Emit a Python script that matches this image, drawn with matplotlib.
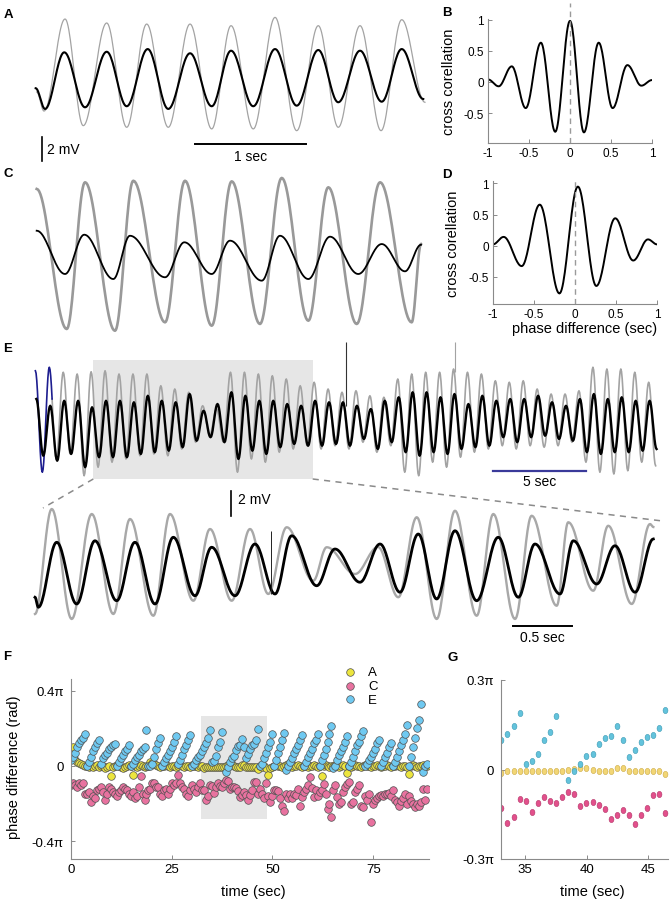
import numpy as np
import matplotlib.pyplot as plt
from matplotlib.lines import Line2D
from matplotlib.patches import Rectangle
from matplotlib.markers import MarkerStyle
from matplotlib.transforms import Affine2D

plt.rcParams['font.family'] = ['Liberation Sans', 'DejaVu Sans']

# ---------------- data ----------------
# A: turning points of the two traces (sec, mV)
A_black_t = [0.006, 0.090, 0.262, 0.448, 0.642, 0.821, 1.009, 1.193, 1.388, 1.582,
             1.755, 1.954, 2.149, 2.343, 2.536, 2.715, 2.910, 3.104, 3.283, 3.476]
A_black_v = [-0.79, -2.56, 2.28, -2.42, 2.33, -2.33, 2.56, -2.56, 2.20, -2.33,
             2.42, -2.33, 2.56, -2.28, 2.48, -1.99, 2.42, -1.94, 2.56, -1.71]
A_grey_t = [0.015, 0.081, 0.269, 0.432, 0.642, 0.821, 1.000, 1.193, 1.388, 1.582,
            1.755, 1.954, 2.149, 2.343, 2.536, 2.715, 2.910, 3.098, 3.283, 3.491]
A_grey_v = [-1.11, -2.74, 5.13, -3.99, 4.79, -4.13, 4.70, -4.13, 4.70, -4.27,
            4.56, -4.27, 5.27, -4.42, 4.56, -4.13, 4.56, -4.42, 5.07, -1.99]

# C: turning points (sec, mV)
C_grey_t = [0.015, 0.284, 0.448, 0.716, 0.880, 1.164, 1.343, 1.582, 1.761, 2.014,
            2.209, 2.447, 2.626, 2.880, 3.089, 3.372, 3.456]
C_grey_v = [5.56, -6.41, 6.13, -6.56, 6.26, -5.84, 6.26, -6.13, 6.21, -5.98,
            6.50, -5.70, 5.70, -5.98, 6.13, -5.84, 0.85]
C_black_t = [0.015, 0.269, 0.441, 0.701, 0.850, 1.164, 1.337, 1.582, 1.746, 2.030,
             2.193, 2.447, 2.641, 2.894, 3.104, 3.312, 3.456]
C_black_v = [1.99, -1.71, 1.65, -2.14, 1.56, -1.99, 1.00, -1.71, 1.14, -2.28,
             1.56, -2.14, 1.48, -1.71, 0.85, -1.48, 0.79]

# B, D: cross correlation turning points (lag sec, r)
B_lag = [-1, -0.87, -0.71, -0.54, -0.355, -0.18, 0, 0.17, 0.35, 0.52, 0.70, 0.87, 1]
B_cc = [0.04, -0.07, 0.25, -0.42, 0.63, -0.80, 0.98, -0.81, 0.63, -0.42, 0.27, -0.06, 0.03]
D_lag = [-1, -0.87, -0.65, -0.43, -0.19, 0.035, 0.26, 0.49, 0.71, 0.89, 1]
D_cc = [0.02, 0.14, -0.33, 0.66, -0.77, 0.95, -0.65, 0.44, -0.24, 0.10, 0.02]

# E (top, long recording): one peak and one trough per cycle (mV)
E_top_t0 = 0.07      # sec, first peak
E_top_half = 0.3747  # sec between a peak and the next trough
E_top_black_pk = [2.24, 1.70, 2.10, 2.10, 1.58, 2.10, 2.10, 1.98, 2.50, 2.10, 1.98, 2.64,
                  1.30, 1.84, 2.78, 2.50, 2.10, 2.10, 1.84, 1.70, 2.10, 1.98, 1.98, 1.70,
                  1.44, 2.10, 2.38, 2.78, 2.78, 2.38, 2.64, 1.84, 2.50, 2.10, 2.24, 2.24,
                  2.50, 1.98, 1.70, 2.24, 2.64, 2.24, 2.38, 2.10, 2.10]
E_top_black_tr = [-2.30, -2.70, -2.16, -3.22, -2.42, -2.42, -2.42, -2.16, -2.02, -1.90, -1.62,
                  -1.10, -0.82, -1.22, -2.56, -1.90, -2.16, -1.62, -1.36, -1.50, -1.50, -1.36,
                  -1.50, -0.96, -1.76, -1.22, -2.02, -2.30, -2.02, -2.16, -1.76, -1.62, -1.50,
                  -0.82, -1.22, -0.82, -0.70, -0.96, -1.10, -2.02, -2.16, -2.02, -2.02, -1.90,
                  -1.76]
E_top_grey_pk = [4.50, 4.78, 4.38, 4.24, 4.42, 4.50, 4.24, 4.24, 4.24, 3.30, 3.04, 2.78,
                 1.70, 1.44, 4.38, 4.38, 4.24, 4.10, 3.84, 3.30, 3.58, 3.04, 2.78, 2.90,
                 2.50, 2.38, 3.84, 4.24, 4.38, 4.38, 4.64, 4.38, 4.24, 3.70, 3.58, 3.70,
                 3.04, 2.64, 2.64, 2.90, 4.78, 4.64, 4.64, 4.38, 3.58]
E_top_grey_tr = [-3.62, -2.56, -2.16, -3.90, -3.22, -2.82, -2.56, -2.30, -2.16, -2.30, -1.76,
                 -1.22, -0.70, -1.22, -3.62, -2.56, -2.82, -2.02, -1.76, -1.50, -1.76, -1.50,
                 -1.76, -1.22, -2.02, -1.50, -3.62, -3.90, -2.82, -3.22, -2.42, -2.02, -1.76,
                 -1.50, -1.76, -1.50, -1.62, -1.50, -1.22, -2.82, -3.62, -3.76, -3.50, -2.82,
                 -3.10]
E_top_spike_t = [16.72, 22.58]
E_top_spike_lo = [1.68, 4.40]
E_top_spike_hi = [6.80, 6.80]

# E (bottom, zoom of shaded part): turning points (sec, mV)
EB_black_t = [0.000, 0.028, 0.184, 0.353, 0.508, 0.692, 0.847, 1.017, 1.172, 1.356, 1.497,
              1.695, 1.864, 2.034, 2.175, 2.387, 2.542, 2.754, 2.924, 3.093, 3.248, 3.404,
              3.559, 3.743, 3.926, 4.096, 4.237, 4.449, 4.562, 4.760, 4.915, 5.085, 5.240]
EB_black_v = [-2.26, -3.06, 2.14, -2.80, 2.26, -2.54, 2.14, -2.80, 2.54, -2.14, 1.74,
              -2.14, 2.00, -2.00, 2.66, -1.34, 1.60, -1.06, 2.00, -1.86, 2.80, -2.40,
              3.06, -2.54, 2.54, -2.26, 2.00, -2.00, 2.26, -1.20, 1.86, -1.86, 2.40]
EB_grey_t = [0.000, 0.142, 0.311, 0.481, 0.664, 0.805, 1.003, 1.144, 1.342, 1.483, 1.667,
             1.822, 1.977, 2.133, 2.358, 2.472, 2.712, 2.907, 3.079, 3.235, 3.404, 3.559,
             3.743, 3.884, 4.068, 4.209, 4.421, 4.519, 4.731, 4.858, 5.057, 5.212, 5.240]
EB_grey_v = [-3.60, 4.80, -4.00, 4.40, -3.60, 4.00, -3.74, 4.40, -2.54, 3.20, -2.54,
             3.20, -2.00, 3.34, -0.94, 1.74, -0.40, 1.76, -2.26, 4.14, -4.00, 4.66,
             -3.74, 4.40, -4.00, 4.26, -2.94, 3.74, -1.74, 3.46, -2.80, 3.60, 3.36]
EB_spike_t = 1.997
EB_spike_lo, EB_spike_hi = -2.0, 3.06

# F, G: phase difference per cycle (units of pi)
t_phase = 0.05 + 0.493 * np.arange(180)
phase_A = [0.05, 0.10, 0.03, 0.02, 0.015, 0.01, 0.005, 0.0, 0.0, -0.005, 0.0,
           -0.005, 0.0, 0.005, -0.005, 0.0, 0.0, -0.01, -0.005, 0.0, -0.055, -0.005, 0.0, 0.005,
           0.0, -0.005, -0.01, -0.005, 0.0, 0.005, 0.0,
           -0.046, 0.0, -0.005, 0.0, 0.005, 0.0, -0.005, 0.0, 0.0, 0.02, 0.015, 0.01, 0.005, 0.0,
           -0.005, 0.0, 0.0, 0.005, 0.0, -0.005,
           0.0, 0.0, -0.005, 0.0, 0.005, 0.0, -0.005, 0.0, 0.0, -0.005, 0.005, 0.0, 0.0, -0.005,
           0.0, 0.0,
           -0.012, -0.005, -0.005, -0.005, -0.005, -0.005, -0.005, -0.005, -0.005, -0.005, -0.005,
           -0.002, 0.003, 0.005, 0.005, 0.0, -0.004, -0.004, -0.004, 0.005, 0.005, -0.004, -0.004,
           -0.004, -0.004, -0.004, -0.004, -0.015,
           0.0, -0.005, 0.0, -0.01, -0.046, -0.01, -0.005, 0.0, 0.005, 0.0, 0.0, -0.005, 0.0,
           0.005, 0.01, 0.0, -0.005, 0.0, 0.0, 0.005, 0.0, -0.005, 0.0, 0.0, -0.005, 0.0,
           0.0, 0.005, 0.0, -0.005, 0.0, -0.055, 0.0, 0.005, 0.0, -0.005, 0.0, 0.0, 0.005, 0.0,
           -0.005, 0.0, 0.005, 0.0, -0.035, 0.0, -0.005, 0.0, 0.005, 0.0, 0.0, -0.005, 0.0, 0.005,
           0.0, 0.0,
           -0.005, 0.0, 0.0, 0.005, 0.0, -0.005, 0.0, 0.0, 0.005, 0.0, -0.005, 0.0, 0.0, 0.005,
           0.0, -0.005, 0.0, 0.0, -0.005, -0.044, 0.0, 0.005, 0.0, -0.005, 0.0, 0.0, 0.005, 0.0,
           0.0]
phase_C = [-0.10, -0.09, -0.10, -0.11, -0.09, -0.10, -0.09, -0.15, -0.15,
           -0.14, -0.19, -0.16, -0.17, -0.13, -0.12, -0.11, -0.14, -0.18, -0.15, -0.11, -0.12,
           -0.14, -0.15, -0.16, -0.14, -0.13, -0.11, -0.12, -0.13, -0.15, -0.16, -0.14,
           -0.17, -0.16, -0.11, -0.055, -0.15, -0.18, -0.15, -0.13, -0.12, -0.09, -0.09, -0.11,
           -0.11, -0.15, -0.16, -0.13, -0.12, -0.15, -0.12, -0.09, -0.10, -0.09, -0.05, -0.09,
           -0.11, -0.12, -0.15, -0.16, -0.13, -0.10, -0.12, -0.14, -0.11, -0.09, -0.13,
           -0.128, -0.181, -0.159, -0.10, -0.105, -0.142, -0.113, -0.091, -0.105, -0.113,
           -0.091, -0.074, -0.082, -0.121, -0.113, -0.11, -0.119, -0.133, -0.166, -0.153,
           -0.136, -0.153, -0.183, -0.153, -0.13, -0.087, -0.083, -0.147,
           -0.12, -0.15, -0.17, -0.09, -0.16, -0.19, -0.16, -0.13, -0.125, -0.135, -0.17, -0.21,
           -0.24, -0.15, -0.17, -0.15,
           -0.17, -0.15, -0.155, -0.12, -0.21, -0.165, -0.14, -0.12, -0.10, -0.06, -0.115,
           -0.165, -0.13, -0.16, -0.14,
           -0.125, -0.095, -0.15, -0.23, -0.20, -0.27, -0.13, -0.10, -0.165, -0.20, -0.19,
           -0.14, -0.11, -0.095, -0.085,
           -0.20, -0.19, -0.14, -0.12, -0.10, -0.21, -0.22, -0.16, -0.18, -0.15, -0.30, -0.20,
           -0.18, -0.17,
           -0.16, -0.155, -0.16, -0.15, -0.15, -0.145, -0.16, -0.13, -0.18, -0.19, -0.21, -0.185,
           -0.17, -0.15, -0.2, -0.16, -0.185, -0.2, -0.22, -0.2, -0.21, -0.19, -0.12, -0.18,
           -0.12]
phase_E = [0.03, 0.05, 0.07, 0.10, 0.12, 0.14, 0.15, 0.172,
           0.0, 0.02, 0.05, 0.08, 0.10, 0.12, 0.14,
           0.01, 0.04, 0.06, 0.07, 0.09, 0.10, 0.11, 0.115,
           0.0, 0.02, 0.04, 0.06, 0.08, 0.09, 0.11,
           0.0, 0.01, 0.03, 0.05, 0.06, 0.08, 0.09, 0.10, 0.19,
           0.0, 0.0, 0.01, 0.05, 0.09, 0.12, 0.149,
           0.0, 0.02, 0.04, 0.06, 0.08, 0.10, 0.13, 0.16,
           0.01, 0.03, 0.06, 0.09, 0.11, 0.14, 0.163,
           0.0, 0.01, 0.03, 0.05, 0.06, 0.08,
           0.099, 0.12, 0.147, 0.19,
           0.019, 0.028, 0.051, 0.10, 0.125, 0.179,
           np.nan, -0.034, -0.006, 0.019, 0.045, 0.053, 0.087, 0.105, 0.113, 0.145, 0.099,
           0.042, 0.065, 0.091, 0.11, 0.117, 0.138, 0.199,
           0.0, 0.01, 0.04, 0.07, 0.10, 0.13, 0.168,
           0.0, 0.03, 0.07, 0.10, 0.14, 0.177,
           -0.02, 0.0, 0.02, 0.04, 0.07, 0.09, 0.11, 0.14, 0.167,
           0.0, 0.02, 0.05, 0.07, 0.09, 0.12, 0.14, 0.168,
           0.0, 0.03, 0.06, 0.09, 0.13, 0.17, 0.211,
           -0.01, 0.0, 0.03, 0.06, 0.08, 0.10, 0.13, 0.158,
           0.0, 0.02, 0.05, 0.08, 0.11, 0.13, 0.16, 0.186,
           0.0, 0.01, 0.03, 0.05, 0.07, 0.09, 0.12, 0.14,
           0.0, 0.02, 0.05, 0.07, 0.10, 0.122,
           0.0, 0.02, 0.05, 0.08, 0.11, 0.14, 0.17, 0.216,
           0.0, 0.05, 0.10, 0.15, 0.20, 0.246, 0.33,
           -0.03, 0.0, 0.01]
G_first, G_last = 67, 94   # cycles shown enlarged in G
shade_F = (32.3, 48.7, -0.28, 0.265)

# ---------------- helpers ----------------
W, H = 670.0, 903.0
fig = plt.figure(figsize=(6.7, 9.03), dpi=100)


def box(x0, y0, x1, y1):
    return [x0 / W, 1 - y1 / H, (x1 - x0) / W, (y1 - y0) / H]


def fpt(x, y):
    return x / W, 1 - y / H


def wave(tk, vk, n=24):
    # smooth half-cosine between consecutive turning points
    tt, vv = [], []
    for i in range(len(tk) - 1):
        s = np.linspace(0, 1, n, endpoint=False)
        tt.append(tk[i] + s * (tk[i + 1] - tk[i]))
        vv.append(vk[i] + (vk[i + 1] - vk[i]) * (1 - np.cos(np.pi * s)) / 2)
    tt.append([tk[-1]])
    vv.append([vk[-1]])
    return np.concatenate(tt), np.concatenate(vv)


def trace_axes(x0, y0, x1, y1, px_s, px_mv, x_zero, y_zero):
    ax = fig.add_axes(box(x0, y0, x1, y1))
    ax.set_xlim((x0 - x_zero) / px_s, (x1 - x_zero) / px_s)
    ax.set_ylim((y_zero - y1) / px_mv, (y_zero - y0) / px_mv)
    ax.axis('off')
    return ax


def style(ax, size):
    for s in ['top', 'right']:
        ax.spines[s].set_visible(False)
    for s in ['left', 'bottom']:
        ax.spines[s].set_color('#8a8a8a')
        ax.spines[s].set_linewidth(0.8)
    ax.tick_params(direction='in', length=3, width=0.7, color='#8a8a8a',
                   labelsize=size, pad=3)


def letter(x, y, s):
    fig.text(*fpt(x, y), s, fontsize=9.5, fontweight='bold', ha='center', va='center')


GREY = '#a3a3a3'

# ---------------- A ----------------
axA = trace_axes(30, 10, 435, 170, 111.7, 11.7, 35, 80)
axA.plot(*wave(A_grey_t, A_grey_v), color=GREY, lw=0.9)
axA.plot(*wave(A_black_t, A_black_v), color='black', lw=1.5)
axA.plot([0.065, 0.065], [-6.98, -4.98], color='black', lw=1.2)
axA.text(0.107, -5.98, '2 mV', fontsize=10, ha='left', va='center')
axA.plot([1.43, 2.43], [-5.56, -5.56], color='black', lw=1.4)
axA.text(1.93, -6.62, '1 sec', fontsize=10, ha='center', va='center')

# ---------------- C ----------------
axC = trace_axes(30, 175, 435, 340, 111.7, 11.7, 35, 255)
axC.plot(*wave(C_grey_t, C_grey_v), color='#999999', lw=1.9)
axC.plot(*wave(C_black_t, C_black_v), color='black', lw=1.3)

# ---------------- B, D ----------------
for rect_px, lag, cc, ylim, top in [((488, 20, 652, 144), B_lag, B_cc, (-0.98, 1.01), 1.27),
                                    ((493, 182, 657, 305), D_lag, D_cc, (-0.94, 1.04), 1.07)]:
    ax = fig.add_axes(box(*rect_px))
    ax.plot(*wave(lag, cc), color='black', lw=1.4)
    ax.plot([0, 0], [ylim[0], top], ls=(0, (4, 3)), color='#9a9a9a', lw=1, clip_on=False)
    ax.set_xlim(-1, 1)
    ax.set_ylim(*ylim)
    ax.set_xticks([-1, -0.5, 0, 0.5, 1])
    ax.set_xticklabels(['-1', '-0.5', '0', '0.5', '1'])
    ax.set_yticks([-0.5, 0, 0.5, 1])
    ax.set_yticklabels(['-0.5', '0', '0.5', '1'])
    style(ax, 8.5)

fig.text(*fpt(449, 82), 'cross corellation', rotation=90, fontsize=10.5, ha='center', va='center')
fig.text(*fpt(453, 244), 'cross corellation', rotation=90, fontsize=10.5, ha='center', va='center')
fig.text(*fpt(585, 329), 'phase difference (sec)', fontsize=10.5, ha='center', va='center')

# ---------------- E top ----------------
axE = trace_axes(30, 338, 665, 492, 18.6, 12.5, 35, 428)
axE.add_patch(Rectangle((3.13, -4.16), 14.93 - 3.13, 5.38 + 4.16, color='#e6e6e6', lw=0, zorder=0))
n_ext = 2 * len(E_top_black_pk)
tk = E_top_t0 + E_top_half * np.arange(n_ext)
gt, gv = wave(tk - 0.05, np.ravel(np.column_stack([E_top_grey_pk, E_top_grey_tr])), n=10)
bt, bv = wave(tk, np.ravel(np.column_stack([E_top_black_pk, E_top_black_tr])), n=10)
first = gt <= 0.9
axE.plot(gt[~first], gv[~first], color=GREY, lw=1.2, zorder=1)
axE.plot(gt[first | (np.arange(len(gt)) == first.sum())], gv[first | (np.arange(len(gt)) == first.sum())],
         color='#1d1d8f', lw=1.2, zorder=1)
axE.plot(bt, bv, color='black', lw=1.7, zorder=2)
axE.vlines(E_top_spike_t[0], E_top_spike_lo[0], E_top_spike_hi[0], color='#333333', lw=0.8, zorder=3)
axE.vlines(E_top_spike_t[1], E_top_spike_lo[1], E_top_spike_hi[1], color=GREY, lw=0.8, zorder=1)
axE.plot([24.62, 29.62], [-3.5, -3.5], color='#3a3a9a', lw=1.6)
axE.text(27.12, -4.35, '5 sec', fontsize=10, ha='center', va='center')

# connectors to the enlarged part
for (xa, ya), (xb, yb) in [((93.3, 480), (43, 509)), ((312.7, 480), (660, 521.7))]:
    fig.add_artist(Line2D([xa / W, xb / W], [1 - ya / H, 1 - yb / H], color='#8a8a8a',
                          lw=1.1, ls=(0, (4, 3.5))))

# ---------------- E bottom ----------------
axE2 = trace_axes(30, 488, 665, 645, 118, 12.5, 35, 570)
axE2.plot(*wave(EB_grey_t, EB_grey_v), color='#a8a8a8', lw=1.7)
axE2.plot(*wave(EB_black_t, EB_black_v), color='black', lw=2.0)
axE2.vlines(EB_spike_t, EB_spike_lo, EB_spike_hi, color='#222222', lw=0.7)
axE2.plot([1.665, 1.665], [4.26, 6.26], color='black', lw=1.2)
axE2.text(1.72, 5.6, '2 mV', fontsize=10, ha='left', va='center')
axE2.plot([4.048, 4.548], [-4.54, -4.54], color='black', lw=1.4)
axE2.text(4.298, -5.42, '0.5 sec', fontsize=10, ha='center', va='center')

# ---------------- F ----------------
axF = fig.add_axes(box(70.7, 680, 429, 860))
x0, x1, y0, y1 = shade_F
axF.add_patch(Rectangle((x0, y0), x1 - x0, y1 - y0, color='#e6e6e6', lw=0, zorder=0))
kw = dict(s=30, edgecolors='#505050', linewidths=0.5, zorder=2)
hA = axF.scatter(t_phase, phase_A, c='#ece53e', label='A', **kw)
hC = axF.scatter(t_phase, phase_C, c='#e8729f', label='C', **kw)
hE = axF.scatter(t_phase, phase_E, c='#6fc9f1', label='E', **kw)
axF.set_xlim(0, 88.8)
axF.set_ylim(-0.494, 0.462)
axF.set_xticks([0, 25, 50, 75])
axF.set_yticks([-0.4, 0, 0.4])
axF.set_yticklabels(['-0.4π', '0', '0.4π'])
style(axF, 9.5)
axF.tick_params(axis='y', pad=5)
axF.legend(handles=[hA, hC, hE], loc='upper left', bbox_to_anchor=fpt(343, 667),
           bbox_transform=fig.transFigure, frameon=False, fontsize=9.5, scatterpoints=1,
           handlelength=1.0, handletextpad=0.9, labelspacing=0.12, borderpad=0, borderaxespad=0)
fig.text(*fpt(14, 767), 'phase difference (rad)', rotation=90, fontsize=10.5, ha='center', va='center')
fig.text(*fpt(253, 892), 'time (sec)', fontsize=10.5, ha='center', va='center')

# ---------------- G ----------------
axG = fig.add_axes(box(501, 681, 668, 860))
sl = slice(G_first, G_last + 1)
oval = MarkerStyle('o', transform=Affine2D().scale(0.78, 1.0))
axG.scatter(t_phase[sl], np.array(phase_A)[sl], marker=oval, s=20, c='#f2d675',
            edgecolors='#caa944', linewidths=0.4, zorder=2)
axG.scatter(t_phase[sl], np.array(phase_C)[sl], marker=oval, s=20, c='#e2508b',
            edgecolors='#b33468', linewidths=0.4, zorder=2)
axG.scatter(t_phase[sl], np.array(phase_E)[sl], marker=oval, s=20, c='#63c3dc',
            edgecolors='#3c99b3', linewidths=0.4, zorder=2)
axG.set_xlim(33.05, 46.6)
axG.set_ylim(-0.3, 0.3)
axG.set_xticks([35, 40, 45])
axG.set_yticks([-0.3, 0, 0.3])
axG.set_yticklabels(['-0.3π', '0', '0.3π'])
style(axG, 9.5)
axG.tick_params(axis='y', pad=5)
fig.text(*fpt(592, 892), 'time (sec)', fontsize=10.5, ha='center', va='center')

# ---------------- panel letters ----------------
letter(8, 15, 'A')
letter(447, 13, 'B')
letter(8, 174, 'C')
letter(447, 175, 'D')
letter(8, 349, 'E')
letter(7, 657, 'F')
letter(453, 658, 'G')

fig.savefig('out.png', dpi=100)
